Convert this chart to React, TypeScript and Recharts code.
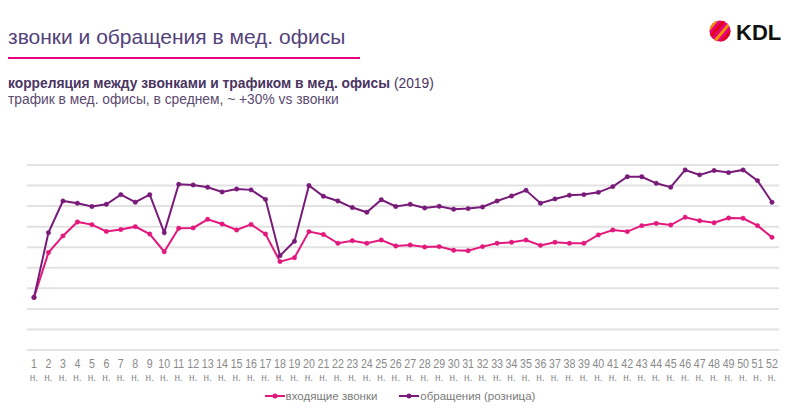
import { LineChart, Line, XAxis, YAxis, ReferenceLine, Legend } from 'recharts';

// недели 1..52
const weeks = Array.from({ length: 52 }, (_, i) => String(i + 1));

// входящие звонки (условные единицы)
const calls = [
  2.56, 4.74, 5.55, 6.23, 6.10, 5.77, 5.86, 6.00, 5.64, 4.78,
  5.92, 5.94, 6.36, 6.13, 5.84, 6.11, 5.64, 4.30, 4.49, 5.76,
  5.62, 5.19, 5.32, 5.19, 5.35, 5.06, 5.11, 5.01, 5.03, 4.85,
  4.83, 5.03, 5.19, 5.24, 5.35, 5.09, 5.24, 5.19, 5.19, 5.60,
  5.84, 5.76, 6.05, 6.16, 6.08, 6.46, 6.29, 6.19, 6.42, 6.41,
  6.05, 5.48,
];

// обращения (розница)
const visits = [
  2.56, 5.71, 7.25, 7.14, 6.98, 7.09, 7.56, 7.19, 7.56, 5.71,
  8.06, 8.03, 7.92, 7.69, 7.83, 7.79, 7.33, 4.59, 5.29, 8.00,
  7.48, 7.25, 6.93, 6.70, 7.31, 6.98, 7.09, 6.91, 6.99, 6.85,
  6.88, 6.96, 7.25, 7.49, 7.77, 7.14, 7.35, 7.53, 7.56, 7.67,
  7.95, 8.43, 8.43, 8.11, 7.92, 8.76, 8.52, 8.73, 8.63, 8.76,
  8.24, 7.19,
];

const gridTicks = [0, 1, 2, 3, 4, 5, 6, 7, 8, 9];

const PINK = '#e3187c';
const PURPLE = '#781b79';
const FONT = '"Liberation Sans", Arial, sans-serif';

const data = weeks.map((w, i) => ({ week: w, calls: calls[i], visits: visits[i] }));

const WeekTick = ({ x, y, payload }: any) => (
  <g transform={`translate(${x},${y})`}>
    <g transform="scale(0.82,1)">
      <text x={0} y={16} textAnchor="middle" fontSize={13} fill="#8a8a8a" fontFamily={FONT}>
        {payload.value}
      </text>
    </g>
    <text x={0} y={29} textAnchor="middle" fontSize={10} fill="#8a8a8a" fontFamily={FONT}>
      н.
    </text>
  </g>
);

const legendItems = [
  { name: 'входящие звонки', color: PINK },
  { name: 'обращения (розница)', color: PURPLE },
];

const LegendContent = () => (
  <div style={{ display: 'flex', justifyContent: 'center', gap: 22, fontFamily: FONT, fontSize: 11.5, color: '#7a7a7a' }}>
    {legendItems.map((it) => (
      <div key={it.name} style={{ display: 'flex', alignItems: 'center' }}>
        <svg width={20} height={10} style={{ marginRight: 1 }}>
          <line x1={0} y1={5} x2={20} y2={5} stroke={it.color} strokeWidth={2} />
          <circle cx={10} cy={5} r={2.5} fill={it.color} />
        </svg>
        <span>{it.name}</span>
      </div>
    ))}
  </div>
);

const Logo = () => (
  <svg width={100} height={44} style={{ position: 'absolute', left: 700, top: 10 }}>
    <defs>
      <clipPath id="kdlc">
        <circle cx={20} cy={21} r={10.5} />
      </clipPath>
    </defs>
    <g clipPath="url(#kdlc)">
      <rect x={0} y={0} width={50} height={44} fill="#e6007e" />
      {[0, 1, 2, 3, 4, 5].map((k) => (
        <rect key={k} x={3 + k * 6} y={-10} width={3} height={64} fill={k % 2 ? '#f39200' : '#e30613'}
          transform="rotate(40 20 21)" />
      ))}
    </g>
    <text x={36} y={29.5} fontSize={22} fontWeight={700} fill="#111" fontFamily={FONT}>KDL</text>
  </svg>
);

export default function App() {
  return (
    <div style={{ position: 'absolute', left: 0, top: 0, width: 800, height: 415, background: '#fff', overflow: 'hidden' }}>
      <div style={{ position: 'absolute', left: 8, top: 25, fontFamily: FONT, fontSize: 21, color: '#54427a', whiteSpace: 'nowrap' }}>
        звонки и обращения в мед. офисы
      </div>
      <div style={{ position: 'absolute', left: 8, top: 57, width: 352, height: 2, background: '#e6007e' }} />
      <div style={{ position: 'absolute', left: 8, top: 76, fontFamily: FONT, fontSize: 13.8, color: '#4a3562', whiteSpace: 'nowrap' }}>
        <b>корреляция между звонками и трафиком в мед. офисы</b> (2019)
      </div>
      <div style={{ position: 'absolute', left: 8, top: 92, fontFamily: FONT, fontSize: 13.8, color: '#5b4a70', whiteSpace: 'nowrap' }}>
        трафик в мед. офисы, в среднем, ~ +30% vs звонки
      </div>
      <Logo />
      <LineChart width={800} height={415} data={data} margin={{ top: 165, right: 21, bottom: 0, left: 27 }}
        style={{ position: 'absolute', left: 0, top: 0 }}>
        <XAxis dataKey="week" interval={0} axisLine={false} tickLine={false} tickSize={0} height={65}
          padding={{ left: 7, right: 7 }} tick={<WeekTick />} />
        <YAxis hide domain={[0, 9]} ticks={gridTicks} />
        {gridTicks.map((v) => (
          <ReferenceLine key={v} y={v} stroke="#e2e2e2" strokeWidth={2} />
        ))}
        <Legend verticalAlign="middle" align="center" content={<LegendContent />}
          wrapperStyle={{ top: 390, left: 0, width: 800 }} />
        <Line type="linear" dataKey="calls" name="входящие звонки" stroke={PINK} strokeWidth={2}
          dot={{ r: 2.2, fill: PINK, stroke: PINK, strokeWidth: 0.5 }} isAnimationActive={false} />
        <Line type="linear" dataKey="visits" name="обращения (розница)" stroke={PURPLE} strokeWidth={2}
          dot={{ r: 2.2, fill: PURPLE, stroke: PURPLE, strokeWidth: 0.5 }} isAnimationActive={false} />
      </LineChart>
    </div>
  );
}
